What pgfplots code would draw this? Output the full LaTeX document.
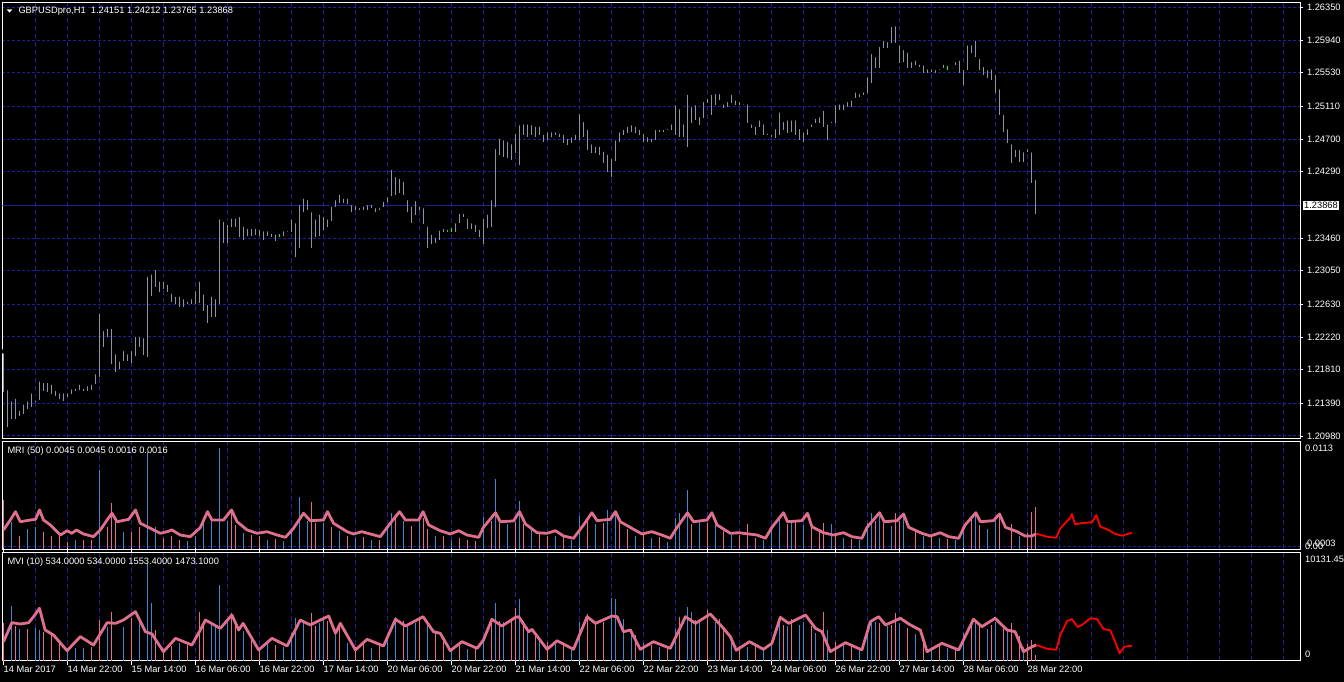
\documentclass[border=0pt]{standalone}
\usepackage{fontspec}
\setmainfont{Liberation Sans}
\usepackage{pgfplots}
\usepackage{pgfplotstable}
\pgfplotsset{compat=1.18}
\definecolor{gridc}{RGB}{32,32,150}
\definecolor{pricel}{RGB}{34,34,150}
\definecolor{barc}{RGB}{140,148,164}
\definecolor{greenc}{RGB}{0,255,0}
\definecolor{pinkc}{RGB}{222,112,142}
\definecolor{histpink}{RGB}{225,110,145}
\definecolor{histblue}{RGB}{65,135,205}
\definecolor{redc}{RGB}{255,0,0}
\newcommand\mt{\fontsize{9.3}{10}\selectfont}

\pgfplotsset{mtpanel/.style={
  scale only axis, anchor=south west, width=1298pt,
  xmin=-0.25, xmax=324.25,
  axis background/.style={fill=black},
  axis line style={draw=white, line width=1pt},
  xtick={8,16,...,320}, xticklabels={}, xmajorgrids,
  grid style={draw=gridc, line width=1pt, dash pattern=on 3pt off 2pt},
  major x grid style={draw=gridc, line width=1pt, dash pattern=on 5pt off 3pt},
  xtick style={draw=none},
  ytick pos=right, tick align=outside,
  scaled y ticks=false, scaled x ticks=false,
  tick label style={font=\mt, text=white},
  clip=true,
}}

\pgfplotstableread{
i hi lo
0 1.2204 1.2153
1 1.2158 1.2109
2 1.2144 1.2119
3 1.2147 1.2119
4 1.2132 1.2123
5 1.2140 1.2125
6 1.2144 1.2132
7 1.2154 1.2134
8 1.2145 1.2141
9 1.2169 1.2143
10 1.2167 1.2154
11 1.2167 1.2153
12 1.2165 1.2150
13 1.2157 1.2148
14 1.2154 1.2144
15 1.2154 1.2142
16 1.2154 1.2147
17 1.2159 1.2150
18 1.2160 1.2154
19 1.2165 1.2156
20 1.2160 1.2154
21 1.2163 1.2154
22 1.2165 1.2156
23 1.2178 1.2163
24 1.2254 1.2172
25 1.2232 1.2210
26 1.2235 1.2222
27 1.2235 1.2188
28 1.2203 1.2178
29 1.2194 1.2182
30 1.2207 1.2192
31 1.2203 1.2192
32 1.2207 1.2190
33 1.2225 1.2198
34 1.2225 1.2210
35 1.2223 1.2200
36 1.2300 1.2197
37 1.2303 1.2273
38 1.2309 1.2284
39 1.2294 1.2278
40 1.2294 1.2282
41 1.2290 1.2278
42 1.2279 1.2266
43 1.2275 1.2263
44 1.2275 1.2259
45 1.2272 1.2259
46 1.2269 1.2263
47 1.2272 1.2263
48 1.2282 1.2263
49 1.2294 1.2265
50 1.2278 1.2254
51 1.2265 1.2240
52 1.2275 1.2247
53 1.2272 1.2247
54 1.2372 1.2263
55 1.2369 1.2340
56 1.2365 1.2340
57 1.2373 1.2360
58 1.2373 1.2360
59 1.2375 1.2347
60 1.2363 1.2344
61 1.2360 1.2348
62 1.2360 1.2348
63 1.2360 1.2350
64 1.2359 1.2348
65 1.2357 1.2344
66 1.2357 1.2348
67 1.2354 1.2347
68 1.2353 1.2342
69 1.2354 1.2347
70 1.2357 1.2348
71 1.2357 1.2353
72 1.2372 1.2353
73 1.2367 1.2322
74 1.2390 1.2334
75 1.2398 1.2378
76 1.2396 1.2381
77 1.2381 1.2334
78 1.2372 1.2347
79 1.2378 1.2348
80 1.2375 1.2356
81 1.2372 1.2360
82 1.2388 1.2367
83 1.2396 1.2385
84 1.2403 1.2390
85 1.2398 1.2390
86 1.2398 1.2388
87 1.2390 1.2379
88 1.2389 1.2381
89 1.2386 1.2381
90 1.2388 1.2381
91 1.2390 1.2381
92 1.2390 1.2384
93 1.2386 1.2379
94 1.2386 1.2381
95 1.2394 1.2385
96 1.2400 1.2391
97 1.2434 1.2398
98 1.2425 1.2400
99 1.2423 1.2403
100 1.2419 1.2400
101 1.2396 1.2378
102 1.2388 1.2365
103 1.2395 1.2375
104 1.2388 1.2381
105 1.2386 1.2363
106 1.2363 1.2334
107 1.2353 1.2338
108 1.2349 1.2340
109 1.2358 1.2344
110 1.2360 1.2353
111 1.2359 1.2353
112 1.2362 1.2353
113 1.2367 1.2354
114 1.2379 1.2365
115 1.2379 1.2372
116 1.2373 1.2357
117 1.2367 1.2357
118 1.2365 1.2354
119 1.2359 1.2347
120 1.2373 1.2338
121 1.2378 1.2359
122 1.2396 1.2360
123 1.2460 1.2385
124 1.2473 1.2450
125 1.2471 1.2448
126 1.2469 1.2446
127 1.2466 1.2444
128 1.2479 1.2453
129 1.2490 1.2438
130 1.2491 1.2475
131 1.2491 1.2473
132 1.2490 1.2475
133 1.2488 1.2473
134 1.2488 1.2475
135 1.2478 1.2466
136 1.2481 1.2469
137 1.2481 1.2473
138 1.2481 1.2475
139 1.2479 1.2473
140 1.2478 1.2465
141 1.2473 1.2463
142 1.2475 1.2465
143 1.2478 1.2469
144 1.2504 1.2469
145 1.2494 1.2473
146 1.2484 1.2456
147 1.2466 1.2453
148 1.2463 1.2453
149 1.2463 1.2450
150 1.2457 1.2440
151 1.2453 1.2429
152 1.2448 1.2422
153 1.2471 1.2442
154 1.2481 1.2466
155 1.2484 1.2475
156 1.2488 1.2478
157 1.2490 1.2479
158 1.2488 1.2478
159 1.2484 1.2475
160 1.2479 1.2466
161 1.2475 1.2466
162 1.2473 1.2466
163 1.2484 1.2469
164 1.2484 1.2479
165 1.2484 1.2479
166 1.2485 1.2481
167 1.2491 1.2481
168 1.2515 1.2475
169 1.2510 1.2473
170 1.2491 1.2473
171 1.2528 1.2460
172 1.2513 1.2490
173 1.2515 1.2494
174 1.2500 1.2488
175 1.2519 1.2496
176 1.2523 1.2515
177 1.2528 1.2500
178 1.2529 1.2513
179 1.2529 1.2519
180 1.2516 1.2509
181 1.2519 1.2510
182 1.2528 1.2515
183 1.2521 1.2513
184 1.2519 1.2513
185 1.2516 1.2513
186 1.2516 1.2490
187 1.2491 1.2484
188 1.2488 1.2475
189 1.2496 1.2485
190 1.2491 1.2475
191 1.2479 1.2475
192 1.2478 1.2473
193 1.2485 1.2471
194 1.2506 1.2475
195 1.2494 1.2481
196 1.2496 1.2478
197 1.2496 1.2479
198 1.2496 1.2475
199 1.2485 1.2469
200 1.2481 1.2466
201 1.2485 1.2475
202 1.2491 1.2485
203 1.2498 1.2490
204 1.2500 1.2490
205 1.2508 1.2485
206 1.2491 1.2469
207 1.2494 1.2490
208 1.2515 1.2490
209 1.2516 1.2506
210 1.2516 1.2506
211 1.2519 1.2510
212 1.2521 1.2510
213 1.2531 1.2521
214 1.2529 1.2523
215 1.2531 1.2525
216 1.2550 1.2528
217 1.2579 1.2540
218 1.2575 1.2559
219 1.2588 1.2559
220 1.2596 1.2584
221 1.2594 1.2584
222 1.2613 1.2590
223 1.2614 1.2590
224 1.2590 1.2565
225 1.2584 1.2566
226 1.2581 1.2559
227 1.2569 1.2559
228 1.2571 1.2563
229 1.2566 1.2560
230 1.2565 1.2553
231 1.2560 1.2553
232 1.2560 1.2554
233 1.2559 1.2553
234 1.2560 1.2556
235 1.2566 1.2559
236 1.2565 1.2556
237 1.2565 1.2563
238 1.2569 1.2563
239 1.2571 1.2553
240 1.2559 1.2538
241 1.2590 1.2556
242 1.2590 1.2578
243 1.2596 1.2573
244 1.2573 1.2556
245 1.2563 1.2550
246 1.2559 1.2546
247 1.2560 1.2544
248 1.2553 1.2528
249 1.2535 1.2500
250 1.2503 1.2479
251 1.2485 1.2465
252 1.2466 1.2440
253 1.2459 1.2448
254 1.2459 1.2441
255 1.2456 1.2441
256 1.2460 1.2454
257 1.2456 1.2415
258 1.24212 1.23765
}\pricedata

\pgfplotstableread{
i hi lo
69 1.2354 1.2347
112 1.2362 1.2353
236 1.2565 1.2556
}\greendata

\begin{document}
\begin{tikzpicture}
\fill[black] (0,0) rectangle (1344pt,682pt);
% ---------------- main price panel
\begin{axis}[mtpanel, at={(2.5pt,243pt)}, height=436.7pt,
  ymin=1.20942, ymax=1.26413,
  ytick={1.2098,1.2139,1.2181,1.2222,1.2263,1.2305,1.2346,1.2429,1.2470,1.2511,1.2553,1.2594,1.2635},
  yticklabels={1.20980,1.21390,1.21810,1.22220,1.22630,1.23050,1.23460,1.24290,1.24700,1.25110,1.25530,1.25940,1.26350},
  ymajorgrids, major tick length=3pt,
  ytick style={draw=white, line width=0.8pt},
]
\addplot[draw=pricel, line width=1.6pt] coordinates {(-0.25,1.23868) (324.25,1.23868)};
\addplot[only marks, mark=none, error bars/.cd, y dir=minus, y explicit, error mark=none,
  error bar style={draw=barc, line width=1pt}]
  table[x=i, y=hi, y error minus expr=\thisrow{hi}-\thisrow{lo}] {\pricedata};
\addplot[only marks, mark=none, error bars/.cd, y dir=minus, y explicit, error mark=none,
  error bar style={draw=greenc, line width=1pt}]
  table[x=i, y=hi, y error minus expr=\thisrow{hi}-\thisrow{lo}] {\greendata};
\coordinate (plab) at (axis cs:324.25,1.23868);
\end{axis}
\node[fill=white, text=black, font=\mt, inner xsep=1.5pt, inner ysep=1pt, anchor=west] at ([xshift=2pt]plab) {1.23868};
\fill[white] (6.7pt,672.7pt) -- (12.3pt,672.7pt) -- (9.5pt,669.3pt) -- cycle;
\node[anchor=west, text=white, font=\mt, inner sep=0pt] at (18.3pt,671pt) {GBPUSDpro,H1\ \ 1.24151 1.24212 1.23765 1.23868};

% ---------------- MRI panel
\begin{axis}[mtpanel, at={(2.5pt,132.7pt)}, height=107.6pt,
  ymin=0.00006, ymax=0.0113,
  ytick={0.0003}, yticklabels={}, ymajorgrids, major tick length=0pt,
]
\addplot[ycomb, draw=histpink, line width=1pt, mark=none] table {
0 0.0052
4 0.0015
10 0.0019
12 0.0014
14 0.0014
16 0.0008
20 0.0010
22 0.0010
26 0.0024
27 0.0049
28 0.0029
32 0.0019
34 0.0024
40 0.0012
42 0.0014
44 0.0010
57 0.0043
58 0.0026
62 0.0016
64 0.0014
68 0.0011
77 0.0050
78 0.0028
82 0.0024
86 0.0015
90 0.0013
94 0.0010
98 0.0032
102 0.0025
105 0.0033
106 0.0022
110 0.0015
114 0.0012
116 0.0010
118 0.0009
122 0.0030
124 0.0028
128 0.0029
130 0.0027
134 0.0018
136 0.0015
140 0.0013
146 0.0030
150 0.0028
154 0.0028
156 0.0022
160 0.0016
164 0.0013
172 0.0027
176 0.0028
180 0.0020
184 0.0016
186 0.0027
188 0.0012
196 0.0027
198 0.0030
202 0.0027
204 0.0020
205 0.0028
208 0.0014
212 0.0011
218 0.0030
220 0.0028
223 0.0038
224 0.0030
228 0.0020
232 0.0014
236 0.0011
242 0.0032
244 0.0026
249 0.0038
252 0.0027
256 0.0018
257 0.0040
258 0.0045
};
\addplot[ycomb, draw=histblue, line width=1pt, mark=none] table {
2 0.0029
6 0.0022
8 0.0024
18 0.0010
24 0.0083
30 0.0019
36 0.0102
38 0.0024
46 0.0009
48 0.0015
50 0.0028
52 0.0030
54 0.0106
56 0.0030
60 0.0018
66 0.0010
70 0.0009
72 0.0020
74 0.0055
76 0.0030
80 0.0028
84 0.0020
88 0.0012
92 0.0010
96 0.0022
97 0.0038
100 0.0030
104 0.0030
108 0.0015
112 0.0010
120 0.0034
123 0.0074
126 0.0027
129 0.0051
132 0.0022
138 0.0014
142 0.0010
144 0.0035
148 0.0027
151 0.0042
153 0.0041
158 0.0015
162 0.0012
166 0.0008
168 0.0033
169 0.0038
171 0.0063
174 0.0030
178 0.0030
182 0.0016
190 0.0010
192 0.0022
194 0.0034
197 0.0031
200 0.0026
207 0.0027
210 0.0012
214 0.0010
216 0.0028
217 0.0039
219 0.0035
222 0.0025
225 0.0037
230 0.0015
234 0.0012
238 0.0010
240 0.0024
243 0.0040
246 0.0022
248 0.0030
254 0.0014
};
\addplot[draw=pinkc, line width=2.8pt, line join=round, mark=none] table {
0 0.00208
1.7 0.00312
3 0.00399
4.2 0.00294
6.7 0.00312
8 0.00319
9 0.00417
10 0.00312
11.7 0.0026
14.2 0.00155
15.9 0.0020
17.1 0.00173
18.2 0.00208
20 0.00166
22.5 0.00138
24.2 0.00208
25.9 0.00312
27.1 0.00382
28.4 0.00294
31.3 0.00319
33 0.00417
34.2 0.00278
36.7 0.00225
39.2 0.00173
40.9 0.0019
42.1 0.00208
44.2 0.00155
46.7 0.00138
49.2 0.00232
51 0.00399
52.1 0.00312
55 0.00312
57 0.00417
58.4 0.00294
60.9 0.00208
63.4 0.00173
65.9 0.0019
68.4 0.00155
70.5 0.00131
72.5 0.00225
75 0.00382
76.7 0.00305
80 0.00312
81 0.00399
82.5 0.00278
85.9 0.0019
87.5 0.00166
89.6 0.0019
91.7 0.00166
94.2 0.00138
96.7 0.00278
99 0.00399
100.5 0.00312
103.8 0.00312
104.9 0.00399
106.3 0.0026
109.2 0.0020
111.7 0.00166
113.8 0.0020
115.9 0.00155
118.8 0.00131
120 0.00236
123 0.00388
124.2 0.00294
127.5 0.00302
129 0.00399
130.5 0.0027
133.4 0.00179
135.9 0.00173
138 0.0020
140 0.00145
142.5 0.00121
145 0.0026
147.1 0.00388
148.4 0.00305
151.7 0.00319
153 0.00399
154.2 0.00294
157.1 0.00225
159.6 0.00166
162.1 0.0019
164.6 0.00155
166.7 0.00121
168.4 0.00236
171 0.00388
172.5 0.00294
175.9 0.00312
177.1 0.00388
178.4 0.0026
181.7 0.00173
183.8 0.00179
186.3 0.00166
188.4 0.00155
190.5 0.00121
192.1 0.00236
195 0.00388
196 0.00294
199.6 0.00305
201 0.00382
202.1 0.00242
205 0.00179
207.5 0.00155
210 0.00179
212.1 0.00138
214.6 0.00121
215.9 0.00236
219 0.00388
220.2 0.00294
223.4 0.00305
225 0.00375
226.3 0.00236
229.6 0.00173
231.7 0.00145
234.2 0.00179
236.3 0.00138
238.8 0.00121
240.4 0.0026
243.1 0.00388
244.2 0.00294
247.5 0.00305
249 0.00375
250.5 0.00236
253.4 0.0019
255.4 0.00145
257.1 0.00145
258.2 0.00169
};
\addplot[draw=redc, line width=1.8pt, line join=round, mark=none] table {
258.2 0.00169
261.1 0.00135
263.2 0.00127
264.2 0.00225
265.4 0.00278
266.7 0.00336
267.1 0.00375
267.9 0.00267
269.2 0.00278
272.1 0.00288
273.2 0.00364
274.2 0.00242
275.9 0.00215
278 0.00166
279.6 0.00148
282.1 0.00179
};
\end{axis}
\node[anchor=west, text=white, font=\mt, inner sep=0pt] at (7.3pt,231.3pt) {MRI (50) 0.0045 0.0045 0.0016 0.0016};
\node[anchor=west, text=white, font=\mt, inner sep=0pt] at (1305pt,233.7pt) {0.0113};
\node[anchor=west, text=white, font=\mt, inner sep=0pt] at (1305pt,135.5pt) {0.00};
\node[anchor=west, text=white, font=\mt, inner sep=0pt] at (1307pt,138.7pt) {0.0003};

% ---------------- MVI panel
\begin{axis}[mtpanel, at={(2.5pt,21pt)}, height=108.7pt,
  ymin=0, ymax=10131.45, ytick=\empty, major tick length=0pt,
  extra x ticks={0,16,...,256},
  extra x tick labels={14 Mar 2017,14 Mar 22:00,15 Mar 14:00,16 Mar 06:00,16 Mar 22:00,17 Mar 14:00,20 Mar 06:00,20 Mar 22:00,21 Mar 14:00,22 Mar 06:00,22 Mar 22:00,23 Mar 14:00,24 Mar 06:00,26 Mar 22:00,27 Mar 14:00,28 Mar 06:00,28 Mar 22:00},
  extra x tick style={grid=none, major tick length=4pt, xtick style={draw=white, line width=1pt},
    xticklabel style={anchor=north west, inner sep=1pt, xshift=-1pt, text=white, font=\mt}},
]
\addplot[ycomb, draw=histpink, line width=1pt, mark=none] table {
0 3570
3 3300
6 3000
10 2700
12 2500
14 1800
22 1300
24 3820
27 4570
32 4000
38 2900
40 1000
42 1400
46 1500
49 4600
50 3700
57 4440
58 3500
62 2200
64 1000
68 1500
77 4440
78 3300
81 3700
84 3200
88 1300
90 1800
94 1400
100 3700
104 3800
108 2800
110 1900
114 1500
118 1200
122 3800
124 3700
127 3900
128 4910
130 3700
133 2700
136 1800
140 1500
146 4380
148 3500
150 3600
158 2400
162 1500
166 1300
169 4130
173 3800
176 4750
179 3900
180 3200
184 1400
188 1500
195 3400
197 3900
202 3300
205 4600
208 1800
212 1400
219 3500
222 3400
223 4440
226 3100
230 2000
234 1500
238 1100
242 3400
244 3300
247 3400
250 3300
252 3510
254 2300
256 1600
257 2000
258 534
};
\addplot[ycomb, draw=histblue, line width=1pt, mark=none] table {
2 5130
4 3000
8 3100
9 2900
16 900
18 1250
20 1200
26 3200
30 3200
34 3500
36 9100
37 5380
44 1700
52 3400
53 3300
54 7080
56 3600
60 2800
66 1600
70 1300
72 2600
73 3980
75 3600
79 3500
80 3800
83 2800
86 1700
92 1200
96 2500
98 4130
101 3400
103 3500
106 3400
112 1200
116 1100
120 2000
123 5380
125 3600
129 5750
131 3200
134 2200
138 1600
142 1200
144 3600
152 5840
153 5750
155 3900
157 3000
160 1700
164 1300
168 3000
171 5060
172 4600
174 3600
178 3600
182 2100
186 1300
190 1100
192 1700
194 3500
196 3300
199 3400
200 3600
203 2600
206 2900
210 1700
214 1100
216 3300
217 3800
218 3600
221 3300
224 3500
228 2500
232 1300
236 1200
240 2600
243 3700
246 3000
248 3600
251 2800
255 1300
};
\addplot[draw=pinkc, line width=2.8pt, line join=round, mark=none] table {
0 1800
2.1 3570
4.2 3450
6.3 3570
7.5 4130
9 4910
10.4 2890
12.5 2420
15.9 960
19.2 2270
22.5 1490
25.9 3570
28 3510
30 3820
33 4600
35.5 2730
37.1 2520
40 870
43 2110
47.1 1490
49.2 2890
50.5 3820
54.2 3040
57.1 4290
58.8 2890
59.9 3510
63.8 1030
67.1 2110
70.9 1400
74.2 3820
76.7 3360
79.2 3820
81.3 4190
83 2580
84.2 3510
88 1030
90.9 2020
95 1400
98 3890
100.5 3260
104.9 4130
107.5 2730
109.2 2580
111.7 960
114.6 1800
118.4 1180
120 1960
122.1 3890
124.6 3260
128 4070
128.8 4130
131.3 2730
132.1 2950
135.9 1090
138.4 1890
142.5 1090
145.9 4130
148 3510
152.1 4190
153.4 4130
155 2730
156.7 2890
159.2 1090
162.5 1800
166.7 1180
170.5 4130
173 3510
176.7 4380
180 3040
181.7 2270
183.2 1000
186.5 1800
190 1090
192.1 1650
194.2 4070
196.3 3510
200.5 4290
203 3040
204.6 2730
206.7 870
210.5 1710
214.6 1030
216.7 3660
218.8 4130
220.5 3360
224.2 3980
226.7 3360
229.2 2890
230.9 870
234.6 1650
238.8 1030
242.5 3890
244.6 3200
247.9 3980
250.9 2890
252.9 2730
255 870
257.1 1330
258.2 1490
};
\addplot[draw=redc, line width=1.8pt, line join=round, mark=none] table {
258.2 1490
261.1 1120
263.2 1050
264.2 2420
265.9 3730
267.1 3910
268.5 3170
269.6 3360
271.7 3980
273.4 3910
275 2980
276.7 2860
277.9 1800
279 720
280.2 1330
282.1 1430
};
\end{axis}
\node[anchor=west, text=white, font=\mt, inner sep=0pt] at (7.3pt,120.3pt) {MVI (10) 534.0000 534.0000 1553.4000 1473.1000};
\node[anchor=west, text=white, font=\mt, inner sep=0pt] at (1305pt,122.7pt) {10131.45};
\node[anchor=west, text=white, font=\mt, inner sep=0pt] at (1305pt,27.7pt) {0};
\pgfresetboundingbox
\useasboundingbox (0,0) rectangle (1344pt,682pt);
\end{tikzpicture}
\end{document}
